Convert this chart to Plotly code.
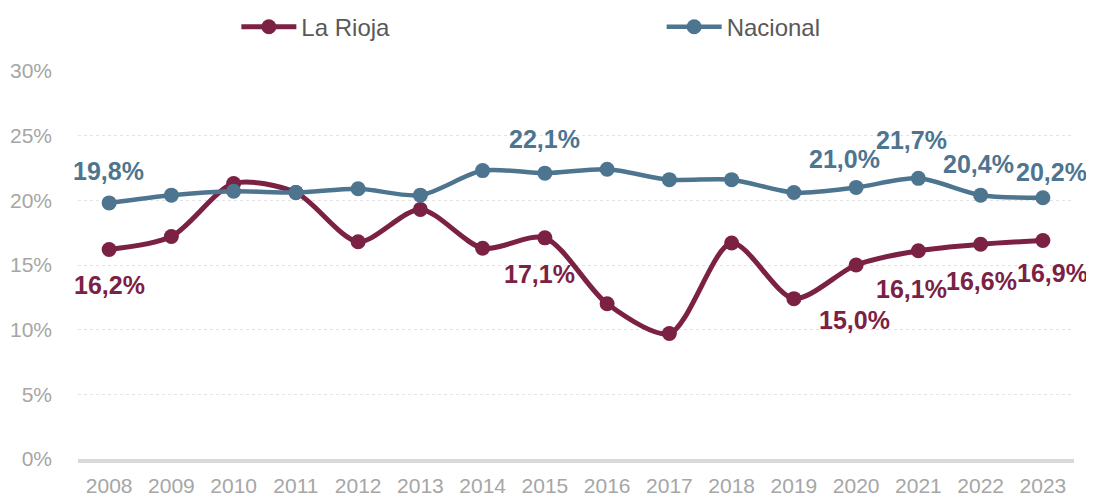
import plotly.graph_objects as go

years = [str(y) for y in range(2008, 2024)]
la_rioja = [16.2, 17.2, 21.3, 20.6, 16.8, 19.3, 16.3, 17.1, 12.0, 9.7, 16.7, 12.4, 15.0, 16.1, 16.6, 16.9]
nacional = [19.8, 20.4, 20.7, 20.6, 20.9, 20.4, 22.3, 22.1, 22.4, 21.6, 21.6, 20.6, 21.0, 21.7, 20.4, 20.2]

# which points get a value label, and where the label sits relative to the point (px)
rioja_labels = {"2008": (0, -36), "2015": (-5, -36), "2020": (-2, -55),
                "2021": (-7, -38), "2022": (1, -37), "2023": (10, -33)}
nac_labels = {"2008": (-1, 32), "2015": (0, 34), "2020": (-12, 28),
              "2021": (-7, 38), "2022": (-2, 31), "2023": (9, 26)}

RIOJA = "#7b2143"
NAC = "#4d758f"
FONT = "Liberation Sans, Arial, sans-serif"


def fmt(v):
    return f"{v:.1f}".replace(".", ",") + "%"


fig = go.Figure()
for name, vals, col, leg, w in [("La Rioja", la_rioja, RIOJA, "legend", 5),
                                ("Nacional", nacional, NAC, "legend2", 4.5)]:
    fig.add_trace(go.Scatter(
        x=years, y=vals, name=name, mode="lines+markers", legend=leg,
        line=dict(color=col, width=w, shape="spline", smoothing=0.8),
        marker=dict(color=col, size=15),
    ))

annotations = []
for vals, labels, col in [(la_rioja, rioja_labels, RIOJA), (nacional, nac_labels, NAC)]:
    for yr, (dx, dy) in labels.items():
        i = years.index(yr)
        annotations.append(dict(
            x=i, y=vals[i], text=f"<b>{fmt(vals[i])}</b>", showarrow=False,
            xshift=dx, yshift=dy, font=dict(size=25, color=col, family=FONT),
        ))

legend_style = dict(
    orientation="h", y=1.113, yanchor="middle", xanchor="left",
    font=dict(size=24, color="#595959", family=FONT),
    itemwidth=55, bgcolor="rgba(0,0,0,0)",
)

# the page body adds an 8px offset, so the figure is 8px smaller each way
fig.update_layout(
    width=1086, height=489,
    margin=dict(l=70, r=20, t=63, b=38, autoexpand=False),
    paper_bgcolor="white", plot_bgcolor="white",
    font=dict(family=FONT, color="#a6a6a6", size=21),
    showlegend=True,
    legend=dict(x=0.159, **legend_style),
    legend2=dict(x=0.586, **legend_style),
    annotations=annotations,
    xaxis=dict(
        type="category", range=[-0.5, 15.5], showgrid=False,
        showline=True, linecolor="#d9d9d9", linewidth=3.5,
        ticks="", tickfont=dict(size=21, color="#a6a6a6"), ticklabelstandoff=5,
    ),
    yaxis=dict(
        range=[0, 30], dtick=5, ticksuffix="%",
        showgrid=True, gridcolor="#e3e3e3", gridwidth=1, griddash="dot",
        zeroline=False, showline=False, ticks="",
        tickfont=dict(size=21, color="#a6a6a6"), ticklabelstandoff=25,
    ),
)

fig.write_html("out.html")
